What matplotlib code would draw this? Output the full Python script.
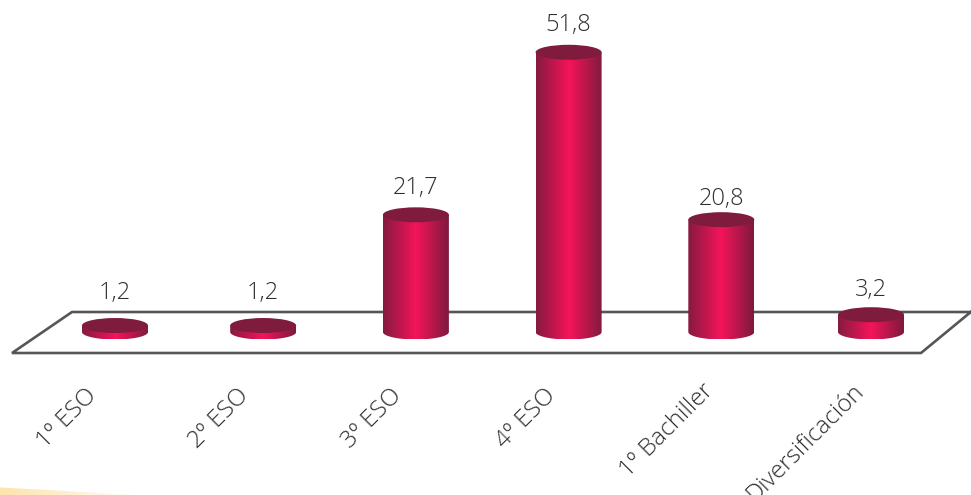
import numpy as np
import matplotlib
matplotlib.use("Agg")
import matplotlib.pyplot as plt
from matplotlib.colors import LinearSegmentedColormap
from matplotlib.patches import Polygon, Ellipse

categories = ["1º ESO", "2º ESO", "3º ESO", "4º ESO", "1º Bachiller", "Diversificación"]
positions = [0, 0.98, 1.99, 3, 4.01, 5]
values = [1.2, 1.2, 21.7, 51.8, 20.8, 3.2]
value_labels = ["1,2", "1,2", "21,7", "51,8", "20,8", "3,2"]

W, H = 971, 495
fig = plt.figure(figsize=(W / 100, H / 100), dpi=100, facecolor="white")
ax = fig.add_axes([0, 0, 1, 1])
PX_X0, PX_DX, PX_Y0, PX_DY = 115.0, 151.2, 332.0, 5.4
ax.set_xlim(-PX_X0 / PX_DX, (W - PX_X0) / PX_DX)
ax.set_ylim((PX_Y0 - H) / PX_DY, PX_Y0 / PX_DY)
ax.axis("off")


def px(x, y):
    return ((x - PX_X0) / PX_DX, (PX_Y0 - y) / PX_DY)


# floor
floor_x, floor_y = zip(*[px(972, 312), px(72, 312), px(12, 353), px(921, 353), px(972, 311)])
ax.plot(floor_x, floor_y, color="#565656", lw=1.9, solid_joinstyle="miter", zorder=1)

# soft yellow strip at the bottom left
cmap_y = LinearSegmentedColormap.from_list("y", ["#fde3ad", "#fff0d2", "#ffffff"])
x0, y0 = px(0, 495)
x1, y1 = px(140, 486)
im = ax.imshow(np.linspace(0, 1, 128)[None, :], extent=(x0, x1, y0, y1), cmap=cmap_y,
               aspect="auto", zorder=0, interpolation="bilinear")
im.set_clip_path(Polygon([px(0, 487.5), px(140, 495), px(0, 495)], transform=ax.transData))

cmap = LinearSegmentedColormap.from_list(
    "bar", [(0, "#851a40"), (0.5, "#f5145a"), (1, "#7d1a3d")])
half_w = 33 / PX_DX
half_h = 7.5 / PX_DY
label_offset_px = [33, 33, 27, 27, 21, 25]
tick_anchor_px = [(85, 384), (237, 384), (390, 384), (544, 384), (702, 379), (852, 379)]

for i, v in enumerate(values):
    c = positions[i]
    t = np.linspace(np.pi, 2 * np.pi, 60)
    bx = c + half_w * np.cos(t)
    by = half_h * np.sin(t)
    outline = list(zip(bx, by)) + [(c + half_w, v), (c - half_w, v)]
    im = ax.imshow(np.linspace(0, 1, 256)[None, :],
                   extent=(c - half_w, c + half_w, -half_h, v + half_h),
                   cmap=cmap, aspect="auto", zorder=3, interpolation="bilinear")
    im.set_clip_path(Polygon(outline, transform=ax.transData))
    ax.add_patch(Ellipse((c, v), 2 * half_w, 2 * half_h, fc="#7f1b3c", ec="none", zorder=4))
    ax.annotate(value_labels[i], xy=(c, v), xytext=(0, label_offset_px[i] * 0.72),
                textcoords="offset points", ha="center", va="center",
                fontsize=17, family="Open Sans", weight="light", color="#303030", zorder=5)
    ax.text(*px(*tick_anchor_px[i]), categories[i], rotation=45, rotation_mode="anchor",
            ha="right", va="top", fontsize=17.5, family="Open Sans", weight="light",
            color="#303030", zorder=5)

ax.set_xlim(-PX_X0 / PX_DX, (W - PX_X0) / PX_DX)
ax.set_ylim((PX_Y0 - H) / PX_DY, PX_Y0 / PX_DY)
fig.savefig("out.png", dpi=100, facecolor="white")
